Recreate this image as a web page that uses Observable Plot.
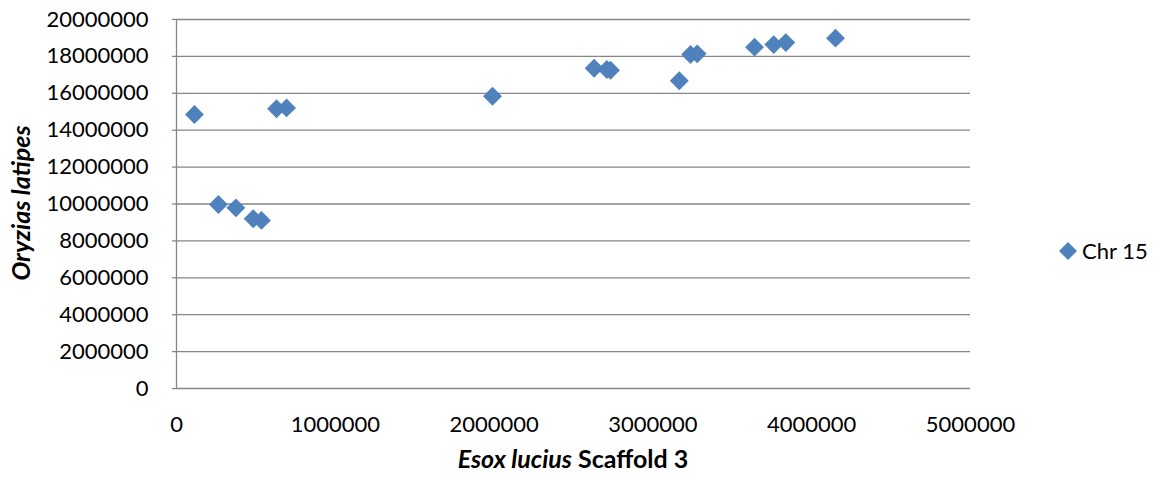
<!DOCTYPE html>
<html><head><meta charset="utf-8">
<script src="https://cdn.jsdelivr.net/npm/d3@7"></script>
<script src="https://cdn.jsdelivr.net/npm/@observablehq/plot@0.6"></script>
<style>
body{margin:0;background:#fff;}
#wrap{position:relative;width:1161px;height:477px;font-family:Lato,sans-serif;color:#000;}
.lbl{position:absolute;font-size:25px;line-height:25px;white-space:nowrap;font-weight:bold;}
#xt{left:573px;top:446px;transform:translateX(-50%);}
#yt{left:20px;top:203px;transform:translate(-50%,-50%) rotate(-90deg);}
#legend{position:absolute;left:1058px;top:240px;font-size:22px;line-height:22px;white-space:nowrap;display:flex;align-items:center;}
</style></head>
<body>
<div id="wrap">
  <div id="chart"></div>
  <div class="lbl" id="xt"><i>Esox lucius</i> Scaffold 3</div>
  <div class="lbl" id="yt"><i>Oryzias latipes</i></div>
  <div id="legend"><svg width="20" height="20" style="margin-right:4px"><polygon points="10,1 19,10 10,19 1,10" fill="#4F81BD"/></svg><span>Chr 15</span></div>
</div>
<script>
const seriesName = "Chr 15";
const esoxPos = [113000, 264000, 374000, 483000, 535000, 630000, 693000, 1990000, 2630000, 2710000, 2733000, 3166000, 3237000, 3279000, 3640000, 3761000, 3837000, 4150000];
const oryziasPos = [14850000, 9970000, 9790000, 9200000, 9110000, 15160000, 15210000, 15840000, 17360000, 17290000, 17250000, 16680000, 18100000, 18140000, 18500000, 18640000, 18750000, 18990000];
const xTicks = [0, 1000000, 2000000, 3000000, 4000000, 5000000];
const yTicks = [0, 2000000, 4000000, 6000000, 8000000, 10000000, 12000000, 14000000, 16000000, 18000000, 20000000];

const data = esoxPos.map((x, i) => ({x, y: oryziasPos[i], series: seriesName}));
const fmt = d => String(d);

const chart = Plot.plot({
  width: 1161, height: 477,
  marginLeft: 176, marginRight: 191, marginTop: 19, marginBottom: 89,
  style: {fontFamily: "Lato, sans-serif", fontSize: "22px", color: "#000", background: "transparent"},
  x: {domain: [0, 5000000], label: null},
  y: {domain: [0, 20000000], label: null},
  marks: [
    Plot.gridY(yTicks, {stroke: "#868686", strokeOpacity: 1, strokeWidth: 1.3}),
    Plot.ruleX([0], {stroke: "#868686", strokeWidth: 1.3}),
    Plot.axisY(yTicks, {tickSize: 4, tickPadding: 24, tickFormat: fmt, stroke: "#868686", strokeWidth: 1.3, fill: "#000", label: null, fontSize: 22}),
    Plot.axisX(xTicks, {tickSize: 0, tickPadding: 28, tickFormat: fmt, fill: "#000", label: null, fontSize: 22}),
    Plot.dot(data, {x: "x", y: "y", symbol: "diamond2", r: 8.5, fill: "#4F81BD", stroke: null})
  ]
});
document.getElementById("chart").appendChild(chart);
</script>
</body></html>
